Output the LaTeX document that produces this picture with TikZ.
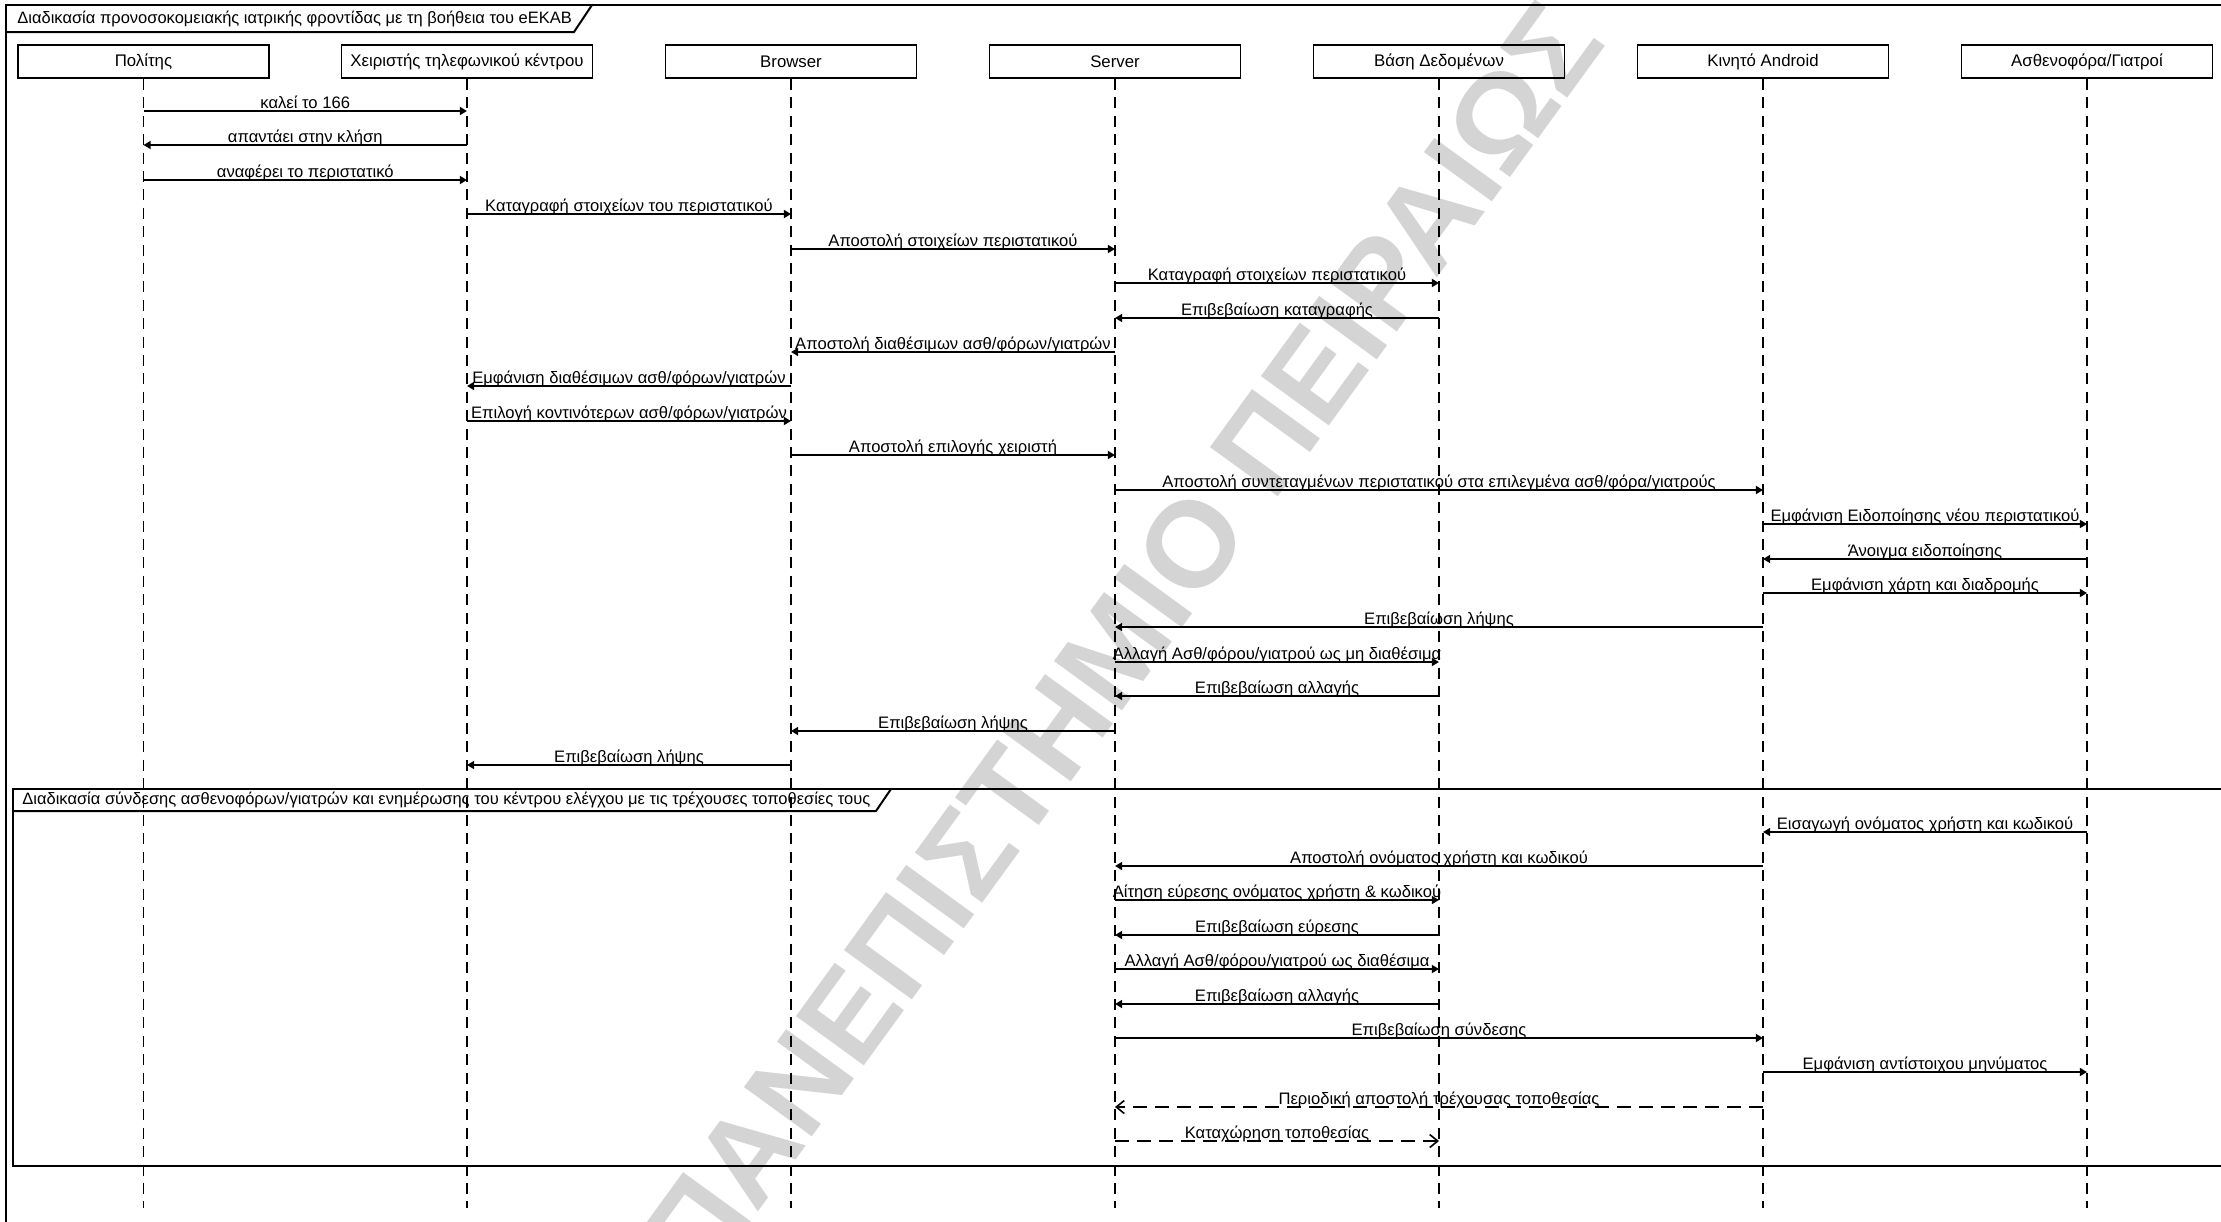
\documentclass[tikz,border=0pt]{standalone}
\usepackage{fontspec}
\setmainfont{Liberation Sans}
\usetikzlibrary{arrows.meta}
\tikzset{
  lifebox/.style={draw, line width=0.9pt, minimum width=125.5pt, minimum height=16.5pt, inner sep=0pt, font=\fontsize{8.4}{10}\selectfont},
  lifeline/.style={line width=0.75pt, dash pattern=on 5.5pt off 3.7pt},
  syncmsg/.style={line width=0.9pt, -{Triangle[length=3.6pt,width=4pt]}},
  asyncmsg/.style={line width=0.8pt, dash pattern=on 7pt off 4pt, -{Straight Barb[length=4pt,width=6.5pt,line width=0.8pt]}},
  msglabel/.style={font=\fontsize{8.3}{10}\selectfont, anchor=base, inner sep=0pt, yshift=1.5pt},
  framestyle/.style={line width=1pt},
  frametitle/.style={font=\fontsize{8.25}{10}\selectfont, anchor=west, inner sep=0pt},
  watermark/.style={text=black!17, font=\fontsize{61}{61}\selectfont\bfseries, inner sep=0pt},
}
\newcommand\msgarrow[5][syncmsg]{\draw[#1] (#2 |- 0,#4) -- (#3 |- 0,#4) node[msglabel, midway] {#5};}
\begin{document}
\begin{tikzpicture}[x=0.5pt,y=-0.5pt]
\useasboundingbox (0,0) rectangle (2221,1221);
\clip (0,0) rectangle (2221,1221);
% watermark
\node[watermark, rotate=54] (wm) at (1122,640) {ΠΑΝΕΠΙΣΤΗΜΙΟ ΠΕΙΡΑΙΩΣ};
% outer frame
\draw[framestyle] (2240,5) -- (6,5) -- (6,1240);
\draw[framestyle] (6,32) -- (574,32) -- (592,5);
\node[frametitle] (t1) at (17,19) {Διαδικασία προνοσοκομειακής ιατρικής φροντίδας με τη βοήθεια του eEKAB};
% inner frame
\draw[framestyle] (2240,789) -- (13,789) -- (13,1166) -- (2240,1166);
\draw[framestyle] (13,811) -- (876,811) -- (891,789);
\node[frametitle] (t2) at (22,800) {Διαδικασία σύνδεσης ασθενοφόρων/γιατρών και ενημέρωσης του κέντρου ελέγχου με τις τρέχουσες τοποθεσίες τους};
% lifelines
\node[lifebox] (pol) at (143.5,61.5) {Πολίτης};
\node[lifebox] (cho) at (467,61.5) {Χειριστής τηλεφωνικού κέντρου};
\node[lifebox] (bro) at (791,61.5) {Browser};
\node[lifebox] (srv) at (1115,61.5) {Server};
\node[lifebox] (db) at (1439,61.5) {Βάση Δεδομένων};
\node[lifebox] (mob) at (1763,61.5) {Κινητό Android};
\node[lifebox] (amb) at (2087,61.5) {Ασθενοφόρα/Γιατροί};
\foreach \n in {pol,cho,bro,srv,db,mob,amb}{
  \coordinate (\n-end) at (\n |- 0,1208);
  \draw[lifeline] (\n.south) -- (\n-end);
}
% messages
\msgarrow{pol}{cho}{111}{καλεί το 166}
\msgarrow{cho}{pol}{145}{απαντάει στην κλήση}
\msgarrow{pol}{cho}{180}{αναφέρει το περιστατικό}
\msgarrow{cho}{bro}{214}{Καταγραφή στοιχείων του περιστατικού}
\msgarrow{bro}{srv}{249}{Αποστολή στοιχείων περιστατικού}
\msgarrow{srv}{db}{283}{Καταγραφή στοιχείων περιστατικού}
\msgarrow{db}{srv}{318}{Επιβεβαίωση καταγραφής}
\msgarrow{srv}{bro}{352}{Αποστολή διαθέσιμων ασθ/φόρων/γιατρών}
\msgarrow{bro}{cho}{386}{Εμφάνιση διαθέσιμων ασθ/φόρων/γιατρών}
\msgarrow{cho}{bro}{421}{Επιλογή κοντινότερων ασθ/φόρων/γιατρών}
\msgarrow{bro}{srv}{455}{Αποστολή επιλογής χειριστή}
\msgarrow{srv}{mob}{490}{Αποστολή συντεταγμένων περιστατικού στα επιλεγμένα ασθ/φόρα/γιατρούς}
\msgarrow{mob}{amb}{524}{Εμφάνιση Ειδοποίησης νέου περιστατικού}
\msgarrow{amb}{mob}{559}{Άνοιγμα ειδοποίησης}
\msgarrow{mob}{amb}{593}{Εμφάνιση χάρτη και διαδρομής}
\msgarrow{mob}{srv}{627}{Επιβεβαίωση λήψης}
\msgarrow{srv}{db}{662}{Αλλαγή Ασθ/φόρου/γιατρού ως μη διαθέσιμα}
\msgarrow{db}{srv}{696}{Επιβεβαίωση αλλαγής}
\msgarrow{srv}{bro}{731}{Επιβεβαίωση λήψης}
\msgarrow{bro}{cho}{765}{Επιβεβαίωση λήψης}
% second fragment
\msgarrow{amb}{mob}{832}{Εισαγωγή ονόματος χρήστη και κωδικού}
\msgarrow{mob}{srv}{866}{Αποστολή ονόματος χρήστη και κωδικού}
\msgarrow{srv}{db}{900}{Αίτηση εύρεσης ονόματος χρήστη \& κωδικού}
\msgarrow{db}{srv}{935}{Επιβεβαίωση εύρεσης}
\msgarrow{srv}{db}{969}{Αλλαγή Ασθ/φόρου/γιατρού ως διαθέσιμα}
\msgarrow{db}{srv}{1004}{Επιβεβαίωση αλλαγής}
\msgarrow{srv}{mob}{1038}{Επιβεβαίωση σύνδεσης}
\msgarrow{mob}{amb}{1072}{Εμφάνιση αντίστοιχου μηνύματος}
\msgarrow[asyncmsg]{mob}{srv}{1107}{Περιοδική αποστολή τρέχουσας τοποθεσίας}
\msgarrow[asyncmsg]{srv}{db}{1141}{Καταχώρηση τοποθεσίας}
\end{tikzpicture}
\end{document}
